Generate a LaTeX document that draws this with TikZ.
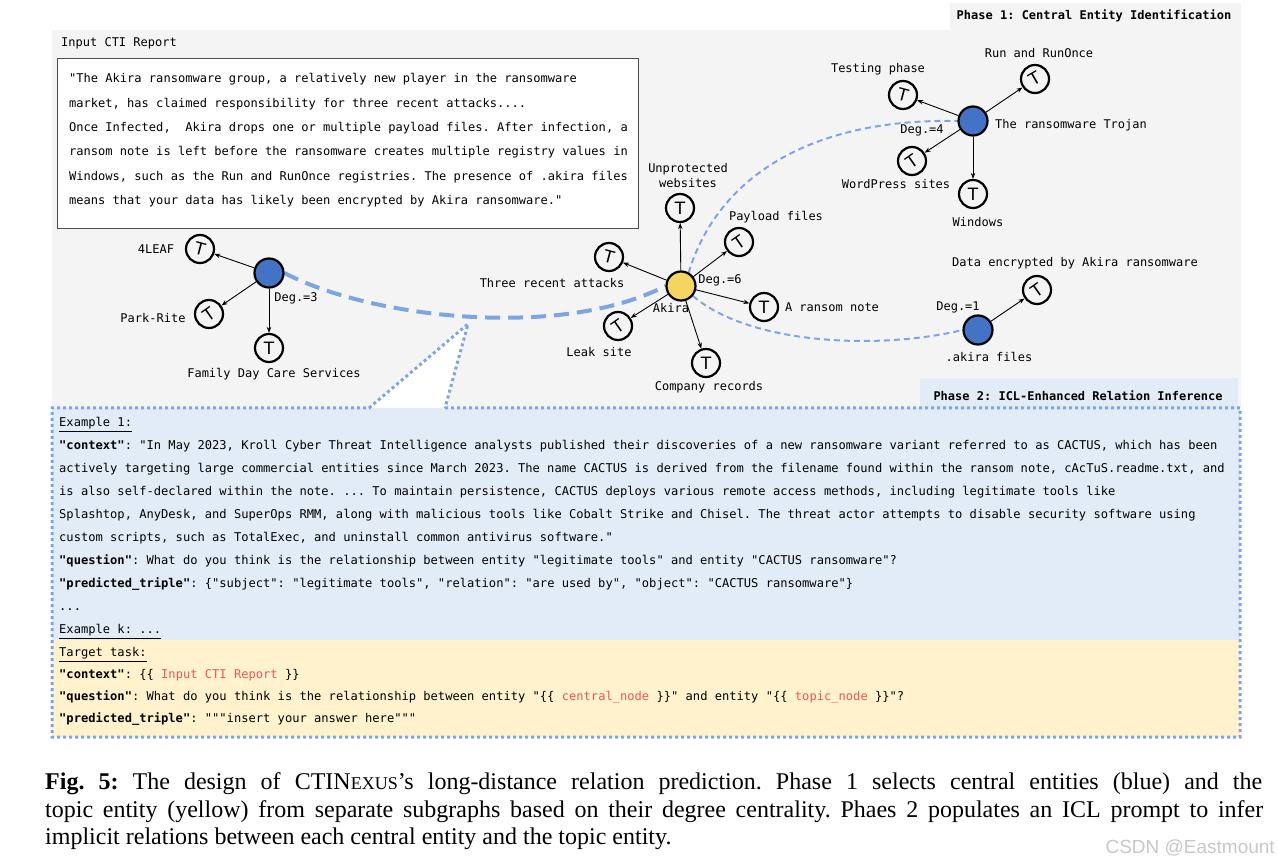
\documentclass[tikz,border=0pt]{standalone}
\usepackage{fontspec}
\setmainfont{Liberation Serif}
\setsansfont{DejaVu Sans}
\setmonofont{DejaVu Sans Mono}
\newfontfamily\markfont{Liberation Sans}
\usetikzlibrary{arrows.meta,positioning,calc}
\definecolor{panelgray}{RGB}{244,244,244}
\definecolor{promptblue}{RGB}{226,236,247}
\definecolor{promptyellow}{RGB}{255,242,204}
\definecolor{linkblue}{RGB}{125,165,226}
\definecolor{centralblue}{RGB}{68,114,196}
\definecolor{topicyellow}{RGB}{245,212,96}
\definecolor{slotred}{RGB}{232,88,88}
\frenchspacing

\begin{document}
\begin{tikzpicture}[x=1pt, y=-1pt,
    every node/.style={inner sep=0pt, font=\ttfamily\fontsize{12}{14}\selectfont},
    ent/.style={circle, draw=black, line width=2.2pt, minimum size=28pt,
                font=\sffamily\fontsize{17}{17}\selectfont},
    hub/.style={circle, draw=black, line width=2.2pt, minimum size=29pt, fill=centralblue},
    topic/.style={hub, fill=topicyellow},
    arr/.style={-{Stealth[length=6pt,width=4.5pt]}, line width=0.9pt, black},
    link/.style={linkblue, line width=2pt, dash pattern=on 6pt off 4pt},
    biglink/.style={linkblue, line width=4pt, dash pattern=on 15pt off 8pt},
    dotline/.style={linkblue, line width=3pt, dash pattern=on 3pt off 3pt},
    phase/.style={font=\ttfamily\bfseries\fontsize{12}{14}\selectfont},
    caption/.style={anchor=base west, font=\rmfamily\fontsize{24}{28}\selectfont}
]
\useasboundingbox (0,0) rectangle (1278,866);

% phase 1 panel
\fill[panelgray] (52,30) rectangle (1241,408);
\fill[panelgray] (950,3) rectangle (1241,30);
\node[phase] (phase1) at (1094,16) {Phase 1: Central Entity Identification};
\fill[promptblue] (920,378) rectangle (1238,408);
\node[phase] (phase2) at (1078,396) {Phase 2: ICL-Enhanced Relation Inference};

% input report
\node[anchor=west] (reporttitle) at (61,43) {Input CTI Report};
\node[draw=black!70, line width=1.3pt, fill=white, anchor=north west,
      minimum width=581pt, minimum height=170pt] (report) at (57,58) {};
\node[anchor=north west, align=left, font=\ttfamily\fontsize{12.05}{24.3}\selectfont] (reporttext) at (69,73.5)
  {"The Akira ransomware group, a relatively new player in the ransomware\\
   market, has claimed responsibility for three recent attacks....\\
   Once Infected,\ \ Akira drops one or multiple payload files. After infection, a\\
   ransom note is left before the ransomware creates multiple registry values in\\
   Windows, such as the Run and RunOnce registries. The presence of .akira files\\
   means that your data has likely been encrypted by Akira ransomware."};

% prompt box
\fill[promptblue] (52,408) rectangle (1240,640);
\fill[promptyellow] (52,640) rectangle (1240,737);
\fill[white] (369,408) -- (468,324) -- (445,408) -- cycle;
\draw[dotline] (445,408) -- (1240,408) -- (1240,737) -- (52,737) -- (52,408)
   -- (369,408) -- (468,324) -- (445,408);

\node[anchor=north west, align=left, font=\ttfamily\fontsize{12.1}{23}\selectfont] (examples) at (59,417.5)
  {\underline{Example 1:}\\
   \textbf{"context"}: "In May 2023, Kroll Cyber Threat Intelligence analysts published their discoveries of a new ransomware variant referred to as CACTUS, which has been\\
   actively targeting large commercial entities since March 2023. The name CACTUS is derived from the filename found within the ransom note, cAcTuS.readme.txt, and\\
   is also self-declared within the note. ... To maintain persistence, CACTUS deploys various remote access methods, including legitimate tools like\\
   Splashtop, AnyDesk, and SuperOps RMM, along with malicious tools like Cobalt Strike and Chisel. The threat actor attempts to disable security software using\\
   custom scripts, such as TotalExec, and uninstall common antivirus software."\\
   \textbf{"question"}: What do you think is the relationship between entity "legitimate tools" and entity "CACTUS ransomware"?\\
   \textbf{"predicted\_triple"}: \{"subject": "legitimate tools", "relation": "are used by", "object": "CACTUS ransomware"\}\\
   ...\\
   \underline{Example k: ...}};

\node[anchor=north west, align=left, font=\ttfamily\fontsize{12.1}{22}\selectfont] (target) at (59,647.5)
  {\underline{Target task:}\\
   \textbf{"context"}: \{\{ \textcolor{slotred}{Input CTI Report} \}\}\\
   \textbf{"question"}: What do you think is the relationship between entity "\{\{ \textcolor{slotred}{central\_node} \}\}" and entity "\{\{ \textcolor{slotred}{topic\_node} \}\}"?\\
   \textbf{"predicted\_triple"}: """insert your answer here"""};

% long-distance links
\coordinate (central1e) at (284.5,273);
\draw[biglink] (central1e) .. controls (370,318) and (560,340) .. (665.5,286);
\draw[link] (688.7,272.6) .. controls (715,185) and (800,118) .. (957.5,121);
\draw[link] (693,296) .. controls (750,345) and (880,350) .. (962.5,330);

% left subgraph
\node[hub] (central1) at (269,273) {};
\node[ent] (t4leaf) at (200,249) {\rotatebox{-15}{T}};
\node[ent] (tpark) at (209,314) {\rotatebox{35}{T}};
\node[ent] (tfamily) at (269,348) {T};
\node (l4leaf) at (156,249) {4LEAF};
\node (lpark) at (153,318) {Park-Rite};
\node (lfamily) at (274,374) {Family Day Care Services};
\node (deg3) at (296,298) {Deg.=3};
\draw[arr] (central1) -- (t4leaf);
\draw[arr] (central1) -- (tpark);
\draw[arr] (central1) -- (tfamily);

% topic subgraph
\node[topic] (akira) at (681,286) {};
\node[ent] (tunprot) at (680,208) {T};
\node[ent] (tpayload) at (739,242) {\rotatebox{35}{T}};
\node[ent] (tattacks) at (609,257) {\rotatebox{-15}{T}};
\node[ent] (tleak) at (618,326) {\rotatebox{35}{T}};
\node[ent] (trecords) at (706,363) {T};
\node[ent] (tnote) at (764,307) {T};
\node[align=center, font=\ttfamily\fontsize{12}{15}\selectfont] (lunprot) at (688,176) {Unprotected\\websites};
\node (lpayload) at (776,217) {Payload files};
\node (lattacks) at (552,283) {Three recent attacks};
\node (lleak) at (599,352) {Leak site};
\node (lrecords) at (709,387) {Company records};
\node (lnote) at (832,307) {A ransom note};
\node (lakira) at (671,308) {Akira};
\node (deg6) at (720,280) {Deg.=6};
\draw[arr] (akira) -- (tunprot);
\draw[arr] (akira) -- (tpayload);
\draw[arr] (akira) -- (tattacks);
\draw[arr] (akira) -- (tleak);
\draw[arr] (akira) -- (trecords);
\draw[arr] (akira) -- (tnote);

% trojan subgraph
\node[hub] (central2) at (973,121) {};
\node[ent] (ttesting) at (903,95) {\rotatebox{-15}{T}};
\node[ent] (trun) at (1035,79) {\rotatebox{30}{T}};
\node[ent] (twordpress) at (912,161) {\rotatebox{35}{T}};
\node[ent] (twindows) at (973,194) {T};
\node (ltesting) at (878,69) {Testing phase};
\node (lrun) at (1039,53) {Run and RunOnce};
\node (ltrojan) at (1071,125) {The ransomware Trojan};
\node (lwordpress) at (896,184) {WordPress sites};
\node (lwindows) at (978,222) {Windows};
\node (deg4) at (922,130) {Deg.=4};
\draw[arr] (central2) -- (ttesting);
\draw[arr] (central2) -- (trun);
\draw[arr] (central2) -- (twordpress);
\draw[arr] (central2) -- (twindows);

% akira files subgraph
\node[hub] (central3) at (978,330) {};
\node[ent] (tdata) at (1037,290) {\rotatebox{35}{T}};
\node (ldata) at (1075,263) {Data encrypted by Akira ransomware};
\node (lfiles) at (989,357) {.akira files};
\node (deg1) at (958,307) {Deg.=1};
\draw[arr] (central3) -- (tdata);

% caption
\node[caption] (cap1) at (45,789)
  {\makebox[1217pt][s]{\textbf{Fig. 5:} The design of CTIN{\fontsize{18}{20}\selectfont EXUS}'s long-distance relation prediction. Phase 1 selects central entities (blue) and the}};
\node[caption] (cap2) at (45,817)
  {\makebox[1218pt][s]{topic entity (yellow) from separate subgraphs based on their degree centrality. Phaes 2 populates an ICL prompt to infer}};
\node[caption] (cap3) at (45,844)
  {implicit relations between each central entity and the topic entity.};
\node[anchor=base east, font=\markfont\fontsize{19}{19}\selectfont, text=black!22] (mark) at (1275,853) {CSDN @Eastmount};
\end{tikzpicture}
\end{document}
